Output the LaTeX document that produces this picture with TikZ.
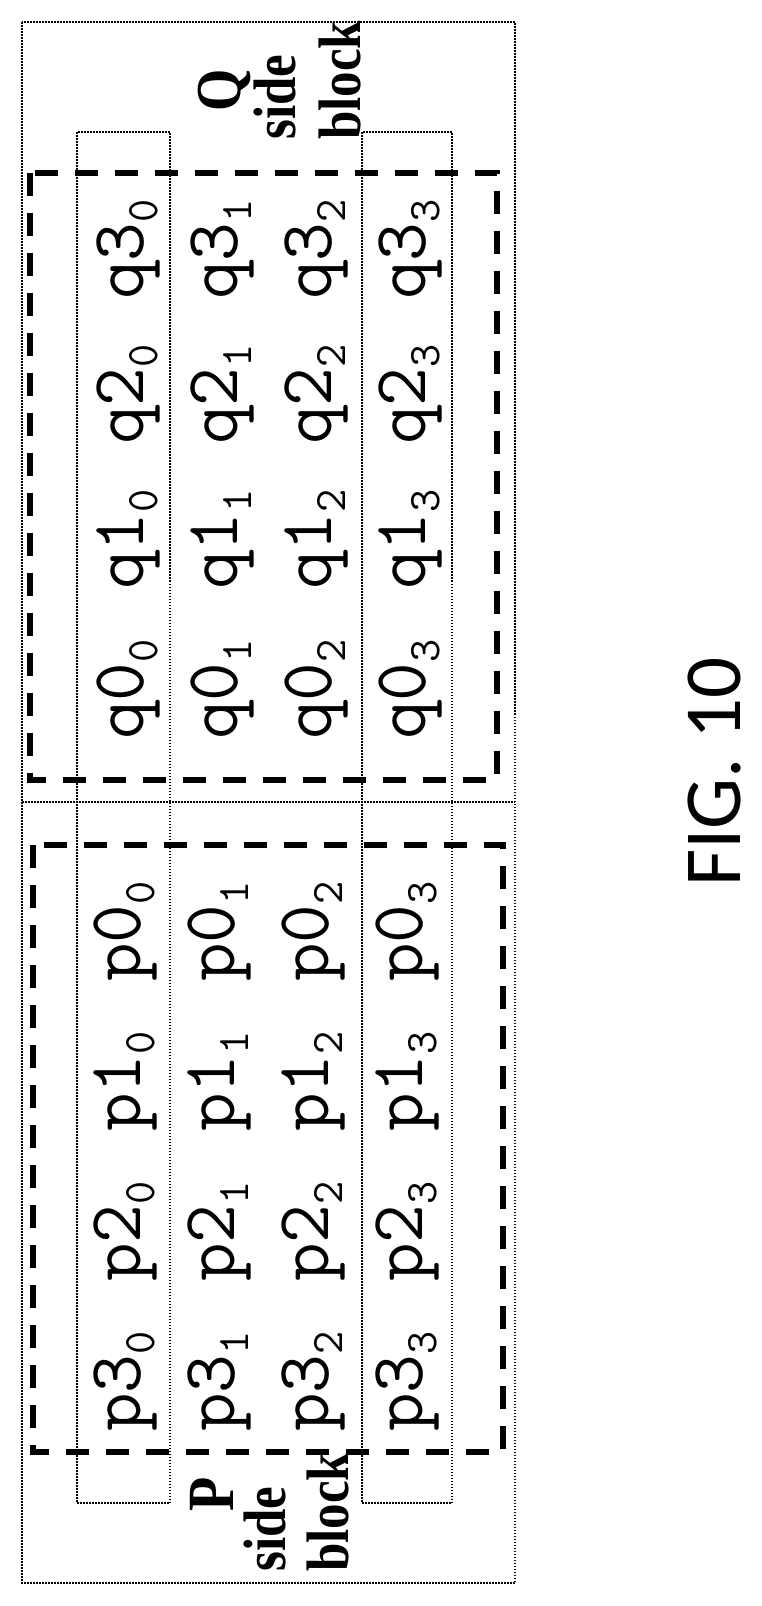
\documentclass[tikz,border=0pt]{standalone}
\usepackage{fontspec}
\newfontfamily\lbl[FakeStretch=0.85]{Liberation Serif}
\newfontfamily\figf{Carlito}
\newcommand{\tok}[2]{{\ttfamily\fontsize{75}{75}\selectfont #1\raisebox{-14pt}{\fontsize{45}{45}\selectfont #2}}}
\begin{document}
\begin{tikzpicture}[x=1pt,y=-1pt,
  dotbox/.style={draw,line width=1.3pt,dash pattern=on 1.5pt off 1.5pt},
  dashbox/.style={draw,line width=5.5pt,dash pattern=on 23pt off 17pt},
  tk/.style={rotate=90,anchor=base west,inner sep=0pt},
  lb/.style={rotate=90,anchor=base west,inner sep=0pt,font=\lbl\bfseries\fontsize{60}{60}\selectfont}]
\useasboundingbox (0,0) rectangle (762,1606);
% outer box and divider
\draw[dotbox] (22,22) rectangle (515,1583);
\draw[dotbox] (22,802) -- (515,802);
% strips
\draw[dotbox] (77,132) rectangle (170,1503);
\draw[dotbox] (362,132) rectangle (452,1503);
% dashed blocks
\draw[dashbox] (30,173) rectangle (497,780);
\draw[dashbox] (33,845) rectangle (503,1452);
% tokens
\foreach \r/\bx in {0/143,1/237,2/331,3/425}{
  \node[tk] (q0\r) at (\bx,740) {\tok{q0}{\r}};
  \node[tk] (q1\r) at (\bx,590) {\tok{q1}{\r}};
  \node[tk] (q2\r) at (\bx,445) {\tok{q2}{\r}};
  \node[tk] (q3\r) at (\bx,300) {\tok{q3}{\r}};
  \node[tk] (p3\r) at (\bx-3,1432) {\tok{p3}{\r}};
  \node[tk] (p2\r) at (\bx-3,1282) {\tok{p2}{\r}};
  \node[tk] (p1\r) at (\bx-3,1132) {\tok{p1}{\r}};
  \node[tk] (p0\r) at (\bx-3,982) {\tok{p0}{\r}};
}
% labels
\node[lb,font=\lbl\bfseries\fontsize{64}{64}\selectfont] (ql) at (240,112) {Q};
\node[lb] (qs) at (295,140) {side};
\node[lb] (qb) at (360,140) {block};
\node[lb,font=\lbl\bfseries\fontsize{66}{66}\selectfont] (pl) at (233,1512) {P};
\node[lb] (ps) at (285,1572) {side};
\node[lb] (pb) at (348,1572) {block};
\node[rotate=90,anchor=base west,inner sep=0pt,font=\figf\fontsize{81}{81}\selectfont] (fig) at (740,887) {FIG. 10};
\end{tikzpicture}
\end{document}
